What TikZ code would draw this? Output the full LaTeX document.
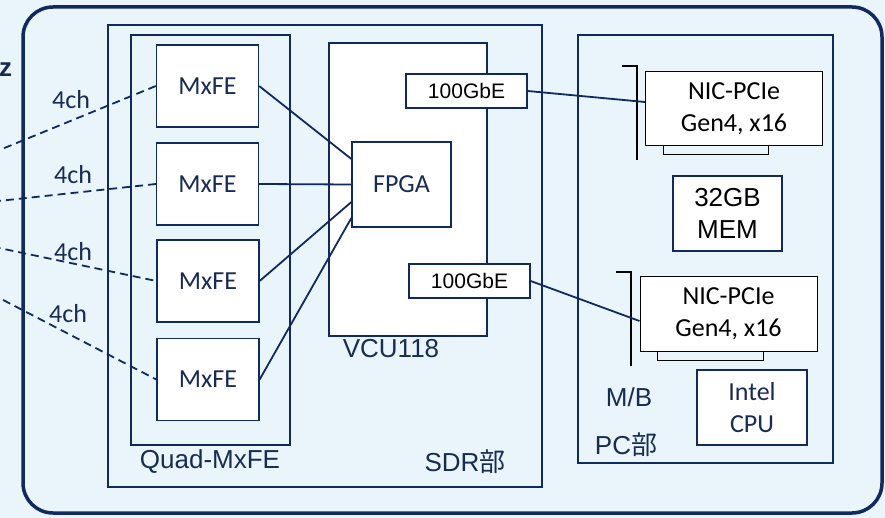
\documentclass[tikz,border=0pt]{standalone}
\usepackage{fontspec}
\setmainfont{Liberation Sans}
\newfontfamily\cali{Carlito}
\newfontfamily\cjk{Noto Sans CJK JP}
\definecolor{linenavy}{RGB}{16,42,96}
\definecolor{txtnavy}{RGB}{24,44,82}
\definecolor{bgblue}{RGB}{233,244,251}

\begin{document}
\begin{tikzpicture}[x=1pt, y=-1pt,
  box/.style={draw=linenavy, line width=1.3pt, fill=white, inner sep=0pt, text=txtnavy, font=\cali\fontsize{26}{32}\selectfont},
  mxfe/.style={box, minimum width=102pt, minimum height=82pt},
  gbe/.style={box, minimum width=121pt, minimum height=34pt, text=black, font=\fontsize{21}{24}\selectfont},
  nic/.style={box, draw=black, line width=1pt, minimum width=177pt, minimum height=74pt, text=black, align=center},
  label/.style={inner sep=0pt, text=txtnavy, font=\fontsize{26}{30}\selectfont},
  chlabel/.style={inner sep=0pt, text=txtnavy, font=\cali\fontsize{26}{30}\selectfont},
  link/.style={draw=linenavy, line width=1.8pt},
  feed/.style={draw=linenavy, line width=1.8pt, dash pattern=on 8pt off 5pt}]
\useasboundingbox (0,0) rectangle (885,518);
\fill[bgblue] (0,0) rectangle (885,518);

% frames
\draw[linenavy, line width=3.5pt, rounded corners=30pt] (23,7) rectangle (882,513);
\draw[linenavy, line width=2.5pt] (108,25) rectangle (542,487);
\draw[linenavy, line width=1.3pt] (131,35) rectangle (290,445);
\draw[linenavy, line width=1.2pt, fill=white] (329,43) rectangle (487,336);
\draw[linenavy, line width=2.5pt] (578,35) rectangle (833,463);

% SDR
\node[mxfe] (mxfe1) at (207.5,86) {MxFE};
\node[mxfe] (mxfe2) at (207.5,184) {MxFE};
\node[mxfe] (mxfe3) at (208,281) {MxFE};
\node[mxfe] (mxfe4) at (208,379.5) {MxFE};
\node[box, minimum width=99pt, minimum height=85pt] (fpga) at (401.5,184.5) {FPGA};
\node[gbe] (gbe1) at (466.5,91) {100GbE};
\node[gbe] (gbe2) at (469.5,281) {100GbE};

% PC
\node[nic] (nic1) at (734,109) {NIC-PCIe\\Gen4, x16};
\draw[black, line width=1pt] (663,146) rectangle (768,155);
\draw[black, line width=1.5pt] (622,66) -- (637,66) -- (637,160);
\node[nic] (nic2) at (728.5,314) {NIC-PCIe\\Gen4, x16};
\draw[black, line width=1pt] (657,351) rectangle (763,360);
\draw[black, line width=1.5pt] (616,272) -- (631,272) -- (631,366);
\node[box, minimum width=109pt, minimum height=75pt, text=black, align=center, font=\fontsize{26}{32}\selectfont] (mem) at (727.5,213.5) {32GB\\MEM};
\node[box, minimum width=110pt, minimum height=75pt, align=center] (cpu) at (752,407.5) {Intel\\CPU};

% links
\draw[link] (mxfe1.east) -- ([yshift=25.5pt]fpga.west);
\draw[link] (mxfe2.east) -- (fpga.west);
\draw[link] (mxfe3.east) -- ([yshift=-17.5pt]fpga.west);
\draw[link] (mxfe4.east) -- ([yshift=-33.5pt]fpga.west);
\draw[link] (gbe1.east) -- ([yshift=7pt]nic1.west);
\draw[link] (gbe2.east) -- ([yshift=-7pt]nic2.west);

% antenna feeds
\coordinate (src1) at (-20,158);
\coordinate (src2) at (-20,203);
\coordinate (src3) at (-20,244);
\coordinate (src4) at (-20,288);
\draw[feed] (src1) -- (mxfe1.west);
\draw[feed] (src2) -- (mxfe2.west);
\draw[feed] (src3) -- (mxfe3.west);
\draw[feed] (src4) -- (mxfe4.west);
\node[chlabel] (ch1) at (71,100) {4ch};
\node[chlabel] (ch2) at (73,175) {4ch};
\node[chlabel] (ch3) at (73,252) {4ch};
\node[chlabel] (ch4) at (68,314) {4ch};
\node[label, anchor=west, font=\bfseries\fontsize{26}{30}\selectfont] (freq) at (-1,70) {z};

% captions
\node[label] (quad) at (210,462) {Quad-MxFE};
\node[label] (vcu) at (391,349) {VCU118};
\node[label] (sdr) at (465,462) {SDR{\cjk 部}};
\node[label] (mb) at (629,397) {M/B};
\node[label] (pc) at (626,445) {PC{\cjk 部}};
\end{tikzpicture}
\end{document}
